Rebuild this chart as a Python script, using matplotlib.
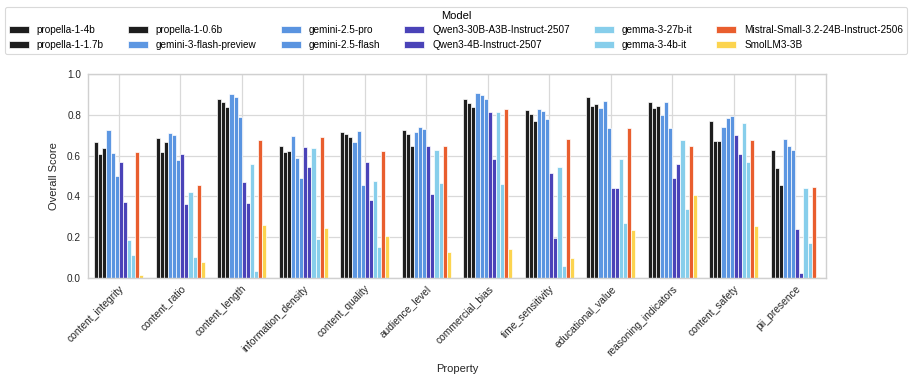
#!/usr/bin/env python3

import numpy as np
import matplotlib
matplotlib.use("Agg")
import matplotlib.pyplot as plt

plt.rcParams['font.family'] = ['Liberation Sans', 'DejaVu Sans']

properties = ["content_integrity", "content_ratio", "content_length", "information_density",
              "content_quality", "audience_level", "commercial_bias", "time_sensitivity",
              "educational_value", "reasoning_indicators", "content_safety", "pii_presence"]

models = ["propella-1-4b", "propella-1-1.7b", "propella-1-0.6b", "gemini-3-flash-preview",
          "gemini-2.5-pro", "gemini-2.5-flash", "Qwen3-30B-A3B-Instruct-2507",
          "Qwen3-4B-Instruct-2507", "gemma-3-27b-it", "gemma-3-4b-it",
          "Mistral-Small-3.2-24B-Instruct-2506", "SmolLM3-3B"]

colors = ["#1e1e1e", "#1e1e1e", "#1e1e1e", "#5d97e2", "#5a94e0", "#5a94e0",
          "#4a43b8", "#4a43b8", "#87ceeb", "#87ceeb", "#e95e2e", "#fcd44f"]

# scores per model, one value per property (same order as properties)
propella_4b = [0.665, 0.688, 0.878, 0.647, 0.716, 0.724, 0.877, 0.824, 0.885, 0.862, 0.770, 0.627]
propella_1_7b = [0.608, 0.617, 0.864, 0.619, 0.704, 0.704, 0.856, 0.803, 0.841, 0.831, 0.673, 0.539]
propella_0_6b = [0.636, 0.667, 0.839, 0.622, 0.693, 0.649, 0.837, 0.772, 0.854, 0.844, 0.673, 0.458]
gemini_3_flash = [0.724, 0.713, 0.900, 0.696, 0.668, 0.714, 0.905, 0.828, 0.833, 0.801, 0.742, 0.680]
gemini_25_pro = [0.611, 0.703, 0.888, 0.589, 0.719, 0.741, 0.897, 0.818, 0.867, 0.862, 0.782, 0.647]
gemini_25_flash = [0.498, 0.580, 0.788, 0.491, 0.456, 0.729, 0.875, 0.780, 0.737, 0.737, 0.793, 0.629]
qwen_30b = [0.570, 0.608, 0.473, 0.642, 0.571, 0.649, 0.816, 0.517, 0.443, 0.488, 0.701, 0.238]
qwen_4b = [0.375, 0.363, 0.368, 0.543, 0.383, 0.414, 0.583, 0.194, 0.442, 0.557, 0.606, 0.026]
gemma_27b = [0.187, 0.420, 0.557, 0.637, 0.477, 0.627, 0.816, 0.544, 0.583, 0.678, 0.760, 0.442]
gemma_4b = [0.112, 0.103, 0.036, 0.190, 0.151, 0.465, 0.461, 0.061, 0.268, 0.337, 0.571, 0.172]
mistral = [0.617, 0.455, 0.678, 0.693, 0.622, 0.647, 0.828, 0.680, 0.736, 0.647, 0.677, 0.445]
smollm = [0.013, 0.077, 0.259, 0.243, 0.204, 0.128, 0.144, 0.100, 0.233, 0.406, 0.255, 0.007]

scores = [propella_4b, propella_1_7b, propella_0_6b, gemini_3_flash, gemini_25_pro,
          gemini_25_flash, qwen_30b, qwen_4b, gemma_27b, gemma_4b, mistral, smollm]

fig = plt.figure(figsize=(9.14, 3.81), dpi=100)
ax = fig.add_axes([0.0963, 0.2703, 0.8074, 0.5355])

x = np.arange(len(properties))
n = len(models)
width = 0.8 / n
for i, (name, vals) in enumerate(zip(models, scores)):
    offset = -0.4 + width * (i + 0.5)
    ax.bar(x + offset, vals, width, color=colors[i], edgecolor="white",
           linewidth=0.5, label=name, zorder=2)

ax.set_xlim(-0.5, len(properties) - 0.5)
ax.set_ylim(0, 1.0)
ax.set_yticks(np.arange(0, 1.01, 0.2))
ax.set_xticks(x)
ax.set_xticklabels(properties, rotation=45, ha="right", rotation_mode="anchor",
                   fontsize=7.4, color="#262626")
ax.tick_params(axis="y", labelsize=7.2, labelcolor="#262626", length=0, pad=5)
ax.tick_params(axis="x", length=0, pad=4)
ax.grid(True, color="#d9d9d9", linewidth=0.9, zorder=0)
ax.set_axisbelow(True)
for s in ax.spines.values():
    s.set_color("#d0d0d0")
    s.set_linewidth(1.0)

ax.set_xlabel("Property", fontsize=8, color="#262626", labelpad=4.5)
ax.set_ylabel("Overall Score", fontsize=8, color="#262626", labelpad=6)

leg = fig.legend(loc="upper center", bbox_to_anchor=(0.499, 0.995), ncol=6,
                 title="Model", fontsize=7.2, title_fontsize=8,
                 frameon=True, handlelength=2.0, handleheight=0.7,
                 columnspacing=2.4, labelspacing=0.45, borderpad=0.4)
leg.get_frame().set_edgecolor("#d0d0d0")
leg.get_frame().set_linewidth(0.8)

fig.savefig("out.png", dpi=100)
